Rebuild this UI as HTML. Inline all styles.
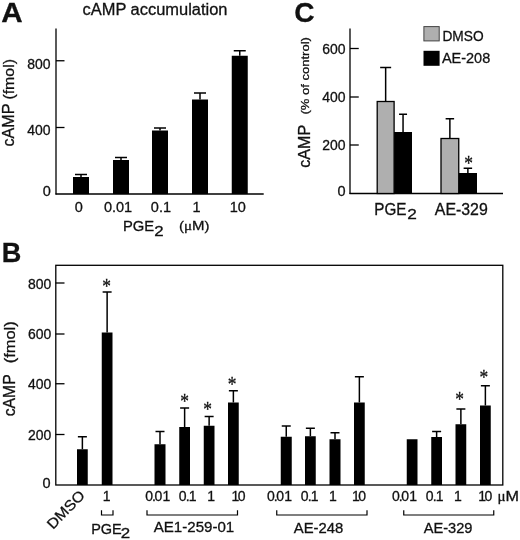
<!DOCTYPE html>
<html lang="en">
<head>
<meta charset="utf-8">
<title>cAMP accumulation</title>
<style>
html,body{margin:0;padding:0;background:#fff;}
body{width:520px;height:540px;overflow:hidden;}
svg{display:block;}
text{font-family:"Liberation Sans",sans-serif;fill:#111;stroke:#111;stroke-width:0.3px;}
</style>
</head>
<body>
<svg width="520" height="540" viewBox="0 0 520 540">
<rect width="520" height="540" fill="#fff"/>
<text x="1.3" y="21.6" font-size="28.2" textLength="21.4" lengthAdjust="spacingAndGlyphs" font-weight="bold">A</text>
<text x="82.5" y="14.5" font-size="16" textLength="145" lengthAdjust="spacingAndGlyphs">cAMP accumulation</text>
<line x1="56" y1="28.5" x2="56" y2="194.5" stroke="#000" stroke-width="1.3"/>
<line x1="55.5" y1="194" x2="263.7" y2="194" stroke="#000" stroke-width="1.3"/>
<line x1="56" y1="60.75" x2="64.5" y2="60.75" stroke="#000" stroke-width="1.3"/>
<line x1="56" y1="127.5" x2="64.5" y2="127.5" stroke="#000" stroke-width="1.3"/>
<text x="50.5" y="68.6" font-size="14.5" textLength="23.3" lengthAdjust="spacingAndGlyphs" text-anchor="end">800</text>
<text x="50.5" y="135.3" font-size="14.5" textLength="23.3" lengthAdjust="spacingAndGlyphs" text-anchor="end">400</text>
<text x="50.8" y="195.6" font-size="14.5" text-anchor="end">0</text>
<line x1="81.0" y1="177" x2="81.0" y2="174.5" stroke="#000" stroke-width="1.5"/>
<line x1="75.0" y1="174.5" x2="87.0" y2="174.5" stroke="#000" stroke-width="1.5"/>
<rect x="73" y="177" width="16" height="17" fill="#000"/>
<line x1="121.0" y1="160" x2="121.0" y2="157.5" stroke="#000" stroke-width="1.5"/>
<line x1="115.0" y1="157.5" x2="127.0" y2="157.5" stroke="#000" stroke-width="1.5"/>
<rect x="113" y="160" width="16" height="34" fill="#000"/>
<line x1="160.0" y1="130.5" x2="160.0" y2="128" stroke="#000" stroke-width="1.5"/>
<line x1="154.0" y1="128" x2="166.0" y2="128" stroke="#000" stroke-width="1.5"/>
<rect x="152" y="130.5" width="16" height="63.5" fill="#000"/>
<line x1="200.0" y1="99.5" x2="200.0" y2="93" stroke="#000" stroke-width="1.5"/>
<line x1="194.0" y1="93" x2="206.0" y2="93" stroke="#000" stroke-width="1.5"/>
<rect x="192" y="99.5" width="16" height="94.5" fill="#000"/>
<line x1="239.75" y1="55.75" x2="239.75" y2="50.75" stroke="#000" stroke-width="1.5"/>
<line x1="233.75" y1="50.75" x2="245.75" y2="50.75" stroke="#000" stroke-width="1.5"/>
<rect x="231.75" y="55.75" width="16.0" height="138.25" fill="#000"/>
<text x="78.8" y="212" font-size="14.5" text-anchor="middle">0</text>
<text x="118" y="212" font-size="14.5" text-anchor="middle">0.01</text>
<text x="160.9" y="212" font-size="14.5" text-anchor="middle">0.1</text>
<text x="196.5" y="212" font-size="14.5" text-anchor="middle">1</text>
<text x="237.8" y="212" font-size="14.5" text-anchor="middle">10</text>
<text x="122.9" y="230.6" font-size="15.5" textLength="31.2" lengthAdjust="spacingAndGlyphs">PGE</text>
<text x="154.2" y="235.8" font-size="15" textLength="9.4" lengthAdjust="spacingAndGlyphs">2</text>
<text x="178.9" y="229.8" font-size="13.5" textLength="30.5" lengthAdjust="spacingAndGlyphs" stroke-width="0.15">(<tspan style='font-family:"Liberation Serif",serif'>μ</tspan>M)</text>
<text x="13.8" y="146.5" font-size="16" textLength="43" lengthAdjust="spacingAndGlyphs" transform="rotate(-90 13.8 146.5)">cAMP</text>
<text x="13.9" y="99.6" font-size="15.5" textLength="40.6" lengthAdjust="spacingAndGlyphs" transform="rotate(-90 13.9 99.6)">(fmol)</text>
<text x="294.3" y="21.5" font-size="28.4" textLength="20.3" lengthAdjust="spacingAndGlyphs" font-weight="bold">C</text>
<line x1="350" y1="28.5" x2="350" y2="194" stroke="#000" stroke-width="1.3"/>
<line x1="349.5" y1="193.5" x2="503" y2="193.5" stroke="#000" stroke-width="1.3"/>
<line x1="350" y1="48.5" x2="358.75" y2="48.5" stroke="#000" stroke-width="1.3"/>
<line x1="350" y1="97" x2="358.75" y2="97" stroke="#000" stroke-width="1.3"/>
<line x1="350" y1="145" x2="358.75" y2="145" stroke="#000" stroke-width="1.3"/>
<text x="345.5" y="53.8" font-size="14.5" textLength="23.3" lengthAdjust="spacingAndGlyphs" text-anchor="end">600</text>
<text x="345.5" y="102.3" font-size="14.5" textLength="23.3" lengthAdjust="spacingAndGlyphs" text-anchor="end">400</text>
<text x="345.5" y="150.3" font-size="14.5" textLength="23.3" lengthAdjust="spacingAndGlyphs" text-anchor="end">200</text>
<text x="345.5" y="195.5" font-size="14.5" text-anchor="end">0</text>
<line x1="385.65" y1="101.5" x2="385.65" y2="67.5" stroke="#000" stroke-width="1.5"/>
<line x1="380.15" y1="67.5" x2="391.15" y2="67.5" stroke="#000" stroke-width="1.5"/>
<rect x="377.2" y="101.5" width="16.900000000000034" height="92.0" fill="#afafaf" stroke="#000" stroke-width="1.3"/>
<line x1="403.05" y1="132" x2="403.05" y2="114.25" stroke="#000" stroke-width="1.5"/>
<line x1="399.05" y1="114.25" x2="407.05" y2="114.25" stroke="#000" stroke-width="1.5"/>
<rect x="394.1" y="132" width="17.899999999999977" height="61.5" fill="#000"/>
<line x1="449.875" y1="138.5" x2="449.875" y2="118.75" stroke="#000" stroke-width="1.5"/>
<line x1="445.625" y1="118.75" x2="454.125" y2="118.75" stroke="#000" stroke-width="1.5"/>
<rect x="441" y="138.5" width="17.75" height="55.0" fill="#afafaf" stroke="#000" stroke-width="1.3"/>
<line x1="467.875" y1="173" x2="467.875" y2="168.25" stroke="#000" stroke-width="1.5"/>
<line x1="463.625" y1="168.25" x2="472.125" y2="168.25" stroke="#000" stroke-width="1.5"/>
<rect x="458.75" y="173" width="18.25" height="20.5" fill="#000"/>
<text transform="translate(468.5 160.15) scale(0.87 1.0)" x="0" y="9.60" font-size="20" text-anchor="middle" style='font-family:"Liberation Serif", serif' stroke="#111" stroke-width="0.3">*</text>
<rect x="423.9" y="26.6" width="15.3" height="14.3" fill="#afafaf" stroke="#444" stroke-width="1"/>
<rect x="423.5" y="50.8" width="16.1" height="15" fill="#000"/>
<text x="442.4" y="40.8" font-size="15.5" textLength="41.2" lengthAdjust="spacingAndGlyphs">DMSO</text>
<text x="441.9" y="63.1" font-size="15.5" textLength="48.3" lengthAdjust="spacingAndGlyphs">AE-208</text>
<text x="374.3" y="214.5" font-size="16" textLength="32.2" lengthAdjust="spacingAndGlyphs">PGE</text>
<text x="407.3" y="218.8" font-size="15.5" textLength="9.6" lengthAdjust="spacingAndGlyphs">2</text>
<text x="434.8" y="214.5" font-size="16" textLength="53" lengthAdjust="spacingAndGlyphs">AE-329</text>
<text x="309.4" y="114.6" font-size="11.5" textLength="77.5" lengthAdjust="spacingAndGlyphs" transform="rotate(-90 309.4 114.6)" stroke-width="0.1">(% of control)</text>
<text x="310.2" y="167.8" font-size="16.5" textLength="43" lengthAdjust="spacingAndGlyphs" transform="rotate(-90 310.2 167.8)">cAMP</text>
<text x="1.8" y="261.9" font-size="27.5" textLength="19.6" lengthAdjust="spacingAndGlyphs" font-weight="bold">B</text>
<rect x="55.8" y="265.3" width="447" height="219.7" fill="none" stroke="#000" stroke-width="1.3"/>
<line x1="55.5" y1="283" x2="64.5" y2="283" stroke="#000" stroke-width="1.3"/>
<line x1="55.5" y1="334" x2="64.5" y2="334" stroke="#000" stroke-width="1.3"/>
<line x1="55.5" y1="383.75" x2="64.5" y2="383.75" stroke="#000" stroke-width="1.3"/>
<line x1="55.5" y1="434.5" x2="64.5" y2="434.5" stroke="#000" stroke-width="1.3"/>
<text x="51.2" y="288.8" font-size="14.5" textLength="23.3" lengthAdjust="spacingAndGlyphs" text-anchor="end">800</text>
<text x="51.2" y="339.3" font-size="14.5" textLength="23.3" lengthAdjust="spacingAndGlyphs" text-anchor="end">600</text>
<text x="51.2" y="389" font-size="14.5" textLength="23.3" lengthAdjust="spacingAndGlyphs" text-anchor="end">400</text>
<text x="51.2" y="439.8" font-size="14.5" textLength="23.3" lengthAdjust="spacingAndGlyphs" text-anchor="end">200</text>
<text x="50.5" y="488.3" font-size="14.5" text-anchor="end">0</text>
<line x1="82.375" y1="449.25" x2="82.375" y2="436.75" stroke="#000" stroke-width="1.5"/>
<line x1="77.875" y1="436.75" x2="86.875" y2="436.75" stroke="#000" stroke-width="1.5"/>
<rect x="77" y="449.25" width="10.75" height="35.75" fill="#000"/>
<line x1="107.125" y1="332.5" x2="107.125" y2="292" stroke="#000" stroke-width="1.5"/>
<line x1="102.625" y1="292" x2="111.625" y2="292" stroke="#000" stroke-width="1.5"/>
<rect x="101.75" y="332.5" width="10.75" height="152.5" fill="#000"/>
<line x1="160.0" y1="444.25" x2="160.0" y2="431.5" stroke="#000" stroke-width="1.5"/>
<line x1="155.5" y1="431.5" x2="164.5" y2="431.5" stroke="#000" stroke-width="1.5"/>
<rect x="154.5" y="444.25" width="11.0" height="40.75" fill="#000"/>
<line x1="184.625" y1="427" x2="184.625" y2="408" stroke="#000" stroke-width="1.5"/>
<line x1="180.125" y1="408" x2="189.125" y2="408" stroke="#000" stroke-width="1.5"/>
<rect x="179.25" y="427" width="10.75" height="58" fill="#000"/>
<line x1="209.125" y1="425.75" x2="209.125" y2="416.5" stroke="#000" stroke-width="1.5"/>
<line x1="204.625" y1="416.5" x2="213.625" y2="416.5" stroke="#000" stroke-width="1.5"/>
<rect x="203.75" y="425.75" width="10.75" height="59.25" fill="#000"/>
<line x1="233.375" y1="402.5" x2="233.375" y2="390.75" stroke="#000" stroke-width="1.5"/>
<line x1="228.875" y1="390.75" x2="237.875" y2="390.75" stroke="#000" stroke-width="1.5"/>
<rect x="228" y="402.5" width="10.75" height="82.5" fill="#000"/>
<line x1="286.25" y1="436.75" x2="286.25" y2="426" stroke="#000" stroke-width="1.5"/>
<line x1="281.75" y1="426" x2="290.75" y2="426" stroke="#000" stroke-width="1.5"/>
<rect x="280.75" y="436.75" width="11.0" height="48.25" fill="#000"/>
<line x1="310.375" y1="436.25" x2="310.375" y2="428.25" stroke="#000" stroke-width="1.5"/>
<line x1="305.875" y1="428.25" x2="314.875" y2="428.25" stroke="#000" stroke-width="1.5"/>
<rect x="305" y="436.25" width="10.75" height="48.75" fill="#000"/>
<line x1="335.0" y1="439.25" x2="335.0" y2="432.75" stroke="#000" stroke-width="1.5"/>
<line x1="330.5" y1="432.75" x2="339.5" y2="432.75" stroke="#000" stroke-width="1.5"/>
<rect x="329.5" y="439.25" width="11.0" height="45.75" fill="#000"/>
<line x1="359.375" y1="402.5" x2="359.375" y2="376.75" stroke="#000" stroke-width="1.5"/>
<line x1="354.875" y1="376.75" x2="363.875" y2="376.75" stroke="#000" stroke-width="1.5"/>
<rect x="354" y="402.5" width="10.75" height="82.5" fill="#000"/>
<rect x="406.75" y="439.25" width="10.75" height="45.75" fill="#000"/>
<line x1="436.625" y1="437" x2="436.625" y2="431.5" stroke="#000" stroke-width="1.5"/>
<line x1="432.125" y1="431.5" x2="441.125" y2="431.5" stroke="#000" stroke-width="1.5"/>
<rect x="431.25" y="437" width="10.75" height="48" fill="#000"/>
<line x1="460.875" y1="424.25" x2="460.875" y2="409" stroke="#000" stroke-width="1.5"/>
<line x1="456.375" y1="409" x2="465.375" y2="409" stroke="#000" stroke-width="1.5"/>
<rect x="455.5" y="424.25" width="10.75" height="60.75" fill="#000"/>
<line x1="485.375" y1="405.5" x2="485.375" y2="385.75" stroke="#000" stroke-width="1.5"/>
<line x1="480.875" y1="385.75" x2="489.875" y2="385.75" stroke="#000" stroke-width="1.5"/>
<rect x="480" y="405.5" width="10.75" height="79.5" fill="#000"/>
<text transform="translate(106.6 283.3) scale(0.87 1.0)" x="0" y="9.60" font-size="20" text-anchor="middle" style='font-family:"Liberation Serif", serif' stroke="#111" stroke-width="0.3">*</text>
<text transform="translate(184.5 398.05) scale(0.87 1.0)" x="0" y="9.60" font-size="20" text-anchor="middle" style='font-family:"Liberation Serif", serif' stroke="#111" stroke-width="0.3">*</text>
<text transform="translate(207.5 406.05) scale(0.87 1.0)" x="0" y="9.60" font-size="20" text-anchor="middle" style='font-family:"Liberation Serif", serif' stroke="#111" stroke-width="0.3">*</text>
<text transform="translate(232 381.05) scale(0.87 1.0)" x="0" y="9.60" font-size="20" text-anchor="middle" style='font-family:"Liberation Serif", serif' stroke="#111" stroke-width="0.3">*</text>
<text transform="translate(459.5 396.8) scale(0.87 1.0)" x="0" y="9.60" font-size="20" text-anchor="middle" style='font-family:"Liberation Serif", serif' stroke="#111" stroke-width="0.3">*</text>
<text transform="translate(483.75 374.8) scale(0.87 1.0)" x="0" y="9.60" font-size="20" text-anchor="middle" style='font-family:"Liberation Serif", serif' stroke="#111" stroke-width="0.3">*</text>
<text x="53" y="530" font-size="14.5" textLength="47" lengthAdjust="spacingAndGlyphs" transform="rotate(-46 53 530)">DMSO</text>
<text x="102.85" y="501.2" font-size="14" stroke-width="0.4">1</text>
<text x="145.22 152.02 154.62 162.60" y="501.2" font-size="14" stroke-width="0.4">0.01</text>
<text x="178.72 185.77 188.85" y="501.2" font-size="14" stroke-width="0.4">0.1</text>
<text x="207.35" y="501.2" font-size="14" stroke-width="0.4">1</text>
<text x="231.40 237.77" y="501.2" font-size="14" stroke-width="0.4">10</text>
<text x="266.97 273.77 276.37 284.35" y="501.2" font-size="14" stroke-width="0.4">0.01</text>
<text x="300.72 307.77 310.85" y="501.2" font-size="14" stroke-width="0.4">0.1</text>
<text x="329.10" y="501.2" font-size="14" stroke-width="0.4">1</text>
<text x="352.00 358.37" y="501.2" font-size="14" stroke-width="0.4">10</text>
<text x="391.97 398.77 401.37 409.35" y="501.2" font-size="14" stroke-width="0.4">0.01</text>
<text x="425.72 432.77 435.85" y="501.2" font-size="14" stroke-width="0.4">0.1</text>
<text x="454.10" y="501.2" font-size="14" stroke-width="0.4">1</text>
<text x="478.25 484.62" y="501.2" font-size="14" stroke-width="0.4">10</text>
<text x="497.6" y="501.2" font-size="15" style='font-family:"Liberation Serif", serif'>μ</text>
<text x="505.5" y="501.2" font-size="14.5" textLength="13.5" lengthAdjust="spacingAndGlyphs">M</text>
<path d="M101.5 510.3 V515 H113 V510.3" fill="none" stroke="#000" stroke-width="1.2"/>
<path d="M147 510.3 V515 H237.5 V510.3" fill="none" stroke="#000" stroke-width="1.2"/>
<path d="M276.75 510.3 V515 H367 V510.3" fill="none" stroke="#000" stroke-width="1.2"/>
<path d="M403.75 510.3 V515 H493.75 V510.3" fill="none" stroke="#000" stroke-width="1.2"/>
<text x="91.2" y="533.8" font-size="15.5" textLength="30.6" lengthAdjust="spacingAndGlyphs">PGE</text>
<text x="120.8" y="537.9" font-size="15" textLength="9.4" lengthAdjust="spacingAndGlyphs">2</text>
<text x="153.75" y="532.4" font-size="14.5" textLength="80.5" lengthAdjust="spacingAndGlyphs">AE1-259-01</text>
<text x="293.75" y="532.5" font-size="14.5" textLength="49.5" lengthAdjust="spacingAndGlyphs">AE-248</text>
<text x="423.75" y="533" font-size="14.5" textLength="48.75" lengthAdjust="spacingAndGlyphs">AE-329</text>
<text x="15" y="416.3" font-size="16" textLength="42" lengthAdjust="spacingAndGlyphs" transform="rotate(-90 15 416.3)">cAMP</text>
<text x="15" y="363.3" font-size="15.5" textLength="42" lengthAdjust="spacingAndGlyphs" transform="rotate(-90 15 363.3)">(fmol)</text>
</svg>
</body>
</html>
